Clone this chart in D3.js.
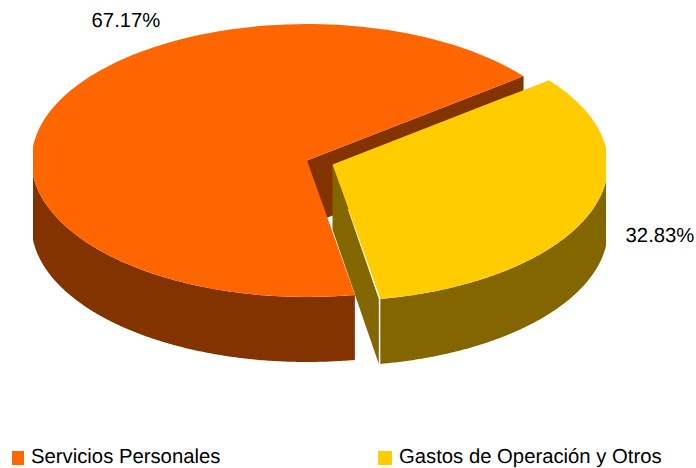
<!DOCTYPE html>
<html>
<head>
<meta charset="utf-8">
<script src="https://cdn.jsdelivr.net/npm/d3@7"></script>
<style>
  html, body { margin: 0; padding: 0; background: #fff; }
  svg { display: block; }
  text { font-family: "Liberation Sans", sans-serif; font-size: 20.3px; fill: #000; text-rendering: geometricPrecision; }
</style>
</head>
<body>
<div id="chart"></div>
<script>
const categories = ["Servicios Personales", "Gastos de Operación y Otros"];
const values = [67.17, 32.83];
const labels = ["67.17%", "32.83%"];
const topColors = ["#ff6600", "#ffcc00"];
const sideColors = ["#833300", "#836600"];

const width = 696, height = 468;
const rx = 275.5, ry = 136.5, depth = 65;
const centers = [{ x: 307, y: 160.5 }, { x: 332.5, y: 164.5 }];
const labelPos = [{ x: 126, y: 27 }, { x: 660, y: 241.5 }];
const legendPos = [{ x: 12, y: 451, w: 12 }, { x: 378, y: 451, w: 14 }];

const svg = d3.select("#chart").append("svg").attr("width", width).attr("height", height);

// the original outline is flat at its far left and right
svg.append("clipPath").attr("id", "pie-clip")
    .append("rect").attr("x", 33).attr("y", 0).attr("width", 573).attr("height", height);
const pie = svg.append("g").attr("clip-path", "url(#pie-clip)");

// pie starts at the lower cut of the orange slice (about 170deg clockwise from top)
const start = 170 * Math.PI / 180;
const slices = d3.pie().sort(null).startAngle(start).endAngle(start + 2 * Math.PI)(values);
const arc = d3.arc().innerRadius(0).outerRadius(1);

// ellipse point for a d3 pie angle
const px = (c, a) => c.x + rx * Math.sin(a);
const py = (c, a) => c.y - ry * Math.cos(a);

// outer wall between two angles
function outerWall(c, a0, a1) {
    const pts = d3.range(0, 201).map(i => a0 + (a1 - a0) * i / 200);
    const top = pts.map(a => [px(c, a), py(c, a)]);
    const bottom = pts.map(a => [px(c, a), py(c, a) + depth]).reverse();
    return d3.line()(top.concat(bottom)) + "Z";
}

function innerWall(c, a, dx) {
    const e = [px(c, a) + dx, py(c, a)];
    return d3.line()([[c.x, c.y], e, [e[0], e[1] + depth], [c.x, c.y + depth]]) + "Z";
}

const [orange, yellow] = slices;

// orange slice: back inner wall, front outer wall, then top
pie.append("path").attr("d", innerWall(centers[0], orange.endAngle, 0)).attr("fill", sideColors[0]);
pie.append("path").attr("d", outerWall(centers[0], orange.startAngle, 1.5 * Math.PI)).attr("fill", sideColors[0]);
pie.append("path")
    .attr("d", arc(orange))
    .attr("transform", `translate(${centers[0].x},${centers[0].y}) scale(${rx},${ry})`)
    .attr("fill", topColors[0]);

// yellow slice, pulled out to the right
pie.append("path").attr("d", innerWall(centers[1], yellow.endAngle, -1.5)).attr("fill", sideColors[1]);
pie.append("path").attr("d", outerWall(centers[1], 2.5 * Math.PI, yellow.endAngle)).attr("fill", sideColors[1]);
pie.append("path")
    .attr("d", arc(yellow))
    .attr("transform", `translate(${centers[1].x},${centers[1].y}) scale(${rx},${ry})`)
    .attr("fill", topColors[1]);

svg.selectAll(".pct")
    .data(labels)
    .join("text")
    .attr("class", "pct")
    .attr("x", (d, i) => labelPos[i].x)
    .attr("y", (d, i) => labelPos[i].y)
    .attr("text-anchor", "middle")
    .text(d => d);

// legend
const legend = svg.selectAll(".legend")
    .data(categories)
    .join("g")
    .attr("class", "legend")
    .attr("transform", (d, i) => `translate(${legendPos[i].x},${legendPos[i].y})`);
legend.append("rect").attr("width", (d, i) => legendPos[i].w).attr("height", 14).attr("fill", (d, i) => topColors[i]);
legend.append("text").attr("x", (d, i) => i ? 21 : 19).attr("y", 11.5).text(d => d);
</script>
</body>
</html>
